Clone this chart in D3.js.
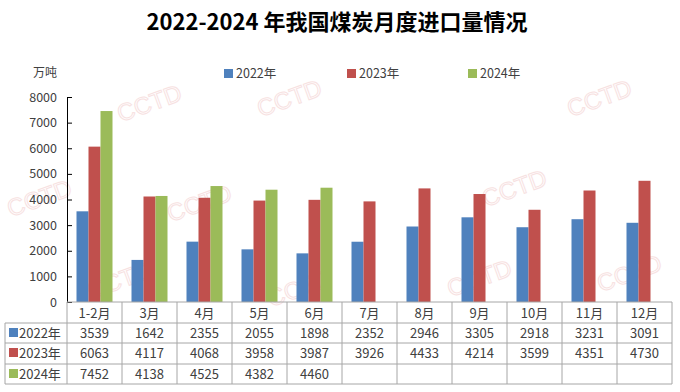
<!DOCTYPE html>
<html><head><meta charset="utf-8">
<script src="https://cdn.jsdelivr.net/npm/d3@7"></script>
<style>body{margin:0;background:#fff}svg{display:block}</style>
</head><body><div id="c"></div>
<script>
const categories = ["1-2月","3月","4月","5月","6月","7月","8月","9月","10月","11月","12月"];
const seriesNames = ["2022年","2023年","2024年"];
const v2022 = [3539,1642,2355,2055,1898,2352,2946,3305,2918,3231,3091];
const v2023 = [6063,4117,4068,3958,3987,3926,4433,4214,3599,4351,4730];
const v2024 = [7452,4138,4525,4382,4460];
const yTicks = [0,1000,2000,3000,4000,5000,6000,7000,8000];
const colors = ["#4F81BD","#C0504D","#9BBB59"];
const series = [v2022, v2023, v2024];

const W=680,H=392;
const svg=d3.select("#c").append("svg").attr("width",W).attr("height",H);
const font="'Noto Sans CJK SC','Liberation Sans',sans-serif";

// faint watermarks
const wm=[[150,105],[290,100],[600,100],[40,200],[200,205],[515,190],[120,282],[300,290],[480,280],[630,275]];
svg.append("g").selectAll("text").data(wm).join("text")
  .attr("transform",d=>`translate(${d[0]},${d[1]}) rotate(-20)`)
  .attr("text-anchor","middle").attr("dominant-baseline","middle")
  .attr("font-family","'Liberation Sans',sans-serif").attr("font-size",24)
  .attr("fill","none").attr("stroke","#f6dada").attr("stroke-width",1).attr("opacity",0.8)
  .text("CCTD");

svg.append("text").attr("x",337).attr("y",30).attr("text-anchor","middle")
  .attr("font-family",font).attr("font-weight","bold").attr("font-size",22).attr("fill","#000")
  .text("2022-2024 年我国煤炭月度进口量情况");

const x0=67,x1=672,yTop=97,yBot=302;
const x=d3.scaleBand().domain(categories).range([x0,x1]);
const y=d3.scaleLinear().domain([0,8000]).range([yBot,yTop]);
const barW=12;
const xs=d3.scaleBand().domain(seriesNames).range([0,barW*3]);

svg.append("text").attr("x",33).attr("y",77).attr("font-family",font).attr("font-size",12).attr("fill","#404040").text("万吨");

// y axis
const ya=svg.append("g").attr("transform",`translate(${x0},0)`)
  .call(d3.axisRight(y).tickValues(yTicks).tickSize(5).tickFormat(""));
ya.select(".domain").attr("stroke","#000");
ya.selectAll(".tick line").attr("stroke","#000");
svg.append("g").selectAll("text").data(yTicks).join("text")
  .attr("x",57).attr("y",d=>y(d)+4.5).attr("text-anchor","end")
  .attr("font-family",font).attr("font-size",12.5).attr("fill","#404040").text(d=>d);

// bars
series.forEach((vals,si)=>{
  svg.append("g").selectAll("rect").data(vals).join("rect")
    .attr("x",(d,i)=>x(categories[i])+(x.bandwidth()-barW*3)/2+xs(seriesNames[si]))
    .attr("y",d=>y(d)).attr("width",barW).attr("height",d=>y(0)-y(d))
    .attr("fill",colors[si]);
});

// legend
const lx=[224,347,468];
seriesNames.forEach((n,i)=>{
  svg.append("rect").attr("x",lx[i]).attr("y",69).attr("width",9).attr("height",9).attr("fill",colors[i]);
  svg.append("text").attr("x",lx[i]+12).attr("y",78).attr("font-family",font).attr("font-size",12.5).attr("fill","#404040").text(n);
});

// table
const rowH=[302,323,343,364,384];
const grid="#a6a6a6";
const tg=svg.append("g");
tg.append("line").attr("x1",x0).attr("x2",x1).attr("y1",rowH[0]).attr("y2",rowH[0]).attr("stroke",grid);
for(let r=1;r<5;r++) tg.append("line").attr("x1",5).attr("x2",x1).attr("y1",rowH[r]).attr("y2",rowH[r]).attr("stroke",grid);
categories.forEach(c=>tg.append("line").attr("x1",x(c)).attr("x2",x(c)).attr("y1",rowH[0]).attr("y2",rowH[4]).attr("stroke",grid));
tg.append("line").attr("x1",x1).attr("x2",x1).attr("y1",rowH[0]).attr("y2",rowH[4]).attr("stroke",grid);
tg.append("line").attr("x1",5).attr("x2",5).attr("y1",rowH[1]).attr("y2",rowH[4]).attr("stroke",grid);
tg.selectAll("text.h").data(categories).join("text").attr("class","h")
  .attr("x",d=>x(d)+x.bandwidth()/2).attr("y",rowH[0]+15.5).attr("text-anchor","middle")
  .attr("font-family",font).attr("font-size",13).attr("fill","#404040").text(d=>d);
series.forEach((vals,si)=>{
  const yy=rowH[si+1]+15;
  tg.append("rect").attr("x",9).attr("y",yy-10).attr("width",9).attr("height",9).attr("fill",colors[si]);
  tg.append("text").attr("x",19).attr("y",yy).attr("font-family",font).attr("font-size",13).attr("fill","#404040").text(seriesNames[si]);
  tg.append("g").selectAll("text").data(vals).join("text")
    .attr("x",(d,i)=>x(categories[i])+x.bandwidth()/2).attr("y",yy).attr("text-anchor","middle")
    .attr("font-family",font).attr("font-size",13).attr("fill","#404040").text(d=>d);
});
</script></body></html>
